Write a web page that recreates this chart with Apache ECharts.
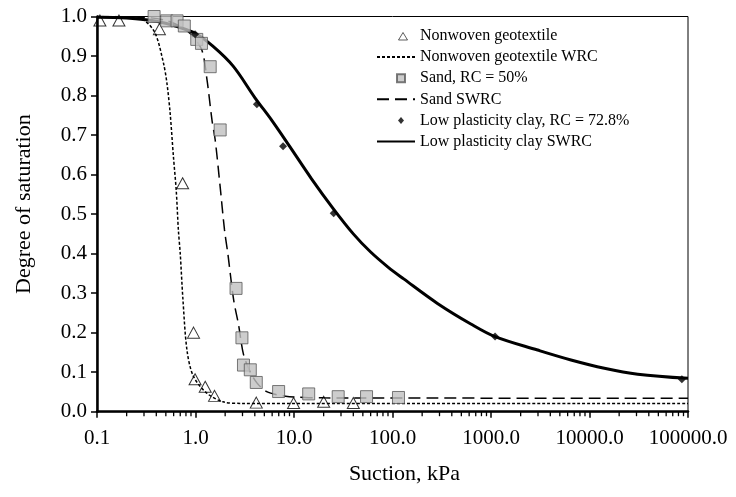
<!DOCTYPE html>
<html>
<head>
<meta charset="utf-8">
<script src="https://cdn.jsdelivr.net/npm/echarts@6/dist/echarts.min.js"></script>
<style>html,body{margin:0;padding:0;background:#fff}#c{width:736px;height:497px}</style>
</head>
<body>
<div id="c"></div>
<script>
// ---- Data ----
const xTickLabels = ['0.1', '1.0', '10.0', '100.0', '1000.0', '10000.0', '100000.0'];
const yTickLabels = ['0.0','0.1','0.2','0.3','0.4','0.5','0.6','0.7','0.8','0.9','1.0'];

// Nonwoven geotextile (measured)
const geoSuction = [0.107, 0.167, 0.43, 0.74, 0.955, 0.99, 1.255, 1.56, 4.14, 9.9, 20, 40];
const geoSat     = [0.99, 0.99, 0.968, 0.578, 0.20, 0.082, 0.063, 0.04, 0.023, 0.022, 0.025, 0.022];

// Nonwoven geotextile WRC (curve)
const geoWrcSuction = [0.1, 0.2, 0.3, 0.389, 0.473, 0.513, 0.553, 0.597, 0.637, 0.67, 0.70, 0.745, 0.82, 0.95, 1.3, 1.9, 3.0, 100000];
const geoWrcSat     = [1.0, 0.997, 0.99, 0.958, 0.882, 0.831, 0.755, 0.645, 0.561, 0.46, 0.40, 0.285, 0.155, 0.09, 0.047, 0.025, 0.021, 0.021];

// Sand, RC = 50% (measured)
const sandSuction = [0.38, 0.51, 0.65, 0.77, 1.03, 1.15, 1.41, 1.78, 2.58, 2.96, 3.07, 3.6, 4.14, 6.98, 14.1, 28.1, 54.5, 115];
const sandSat     = [1.0, 0.989, 0.989, 0.976, 0.942, 0.932, 0.873, 0.713, 0.312, 0.187, 0.118, 0.106, 0.074, 0.051, 0.045, 0.038, 0.038, 0.036];

// Sand SWRC (curve)
const sandWrcSuction = [0.1, 0.3, 0.5, 0.7, 0.9, 1.16, 1.31, 1.47, 1.585, 1.78, 1.97, 2.13, 2.44, 2.74, 3.07, 3.6, 4.2, 5.1, 6.2, 7.85, 10, 20, 100000];
const sandWrcSat     = [1.0, 0.998, 0.99, 0.975, 0.955, 0.915, 0.839, 0.738, 0.6875, 0.569, 0.46, 0.40, 0.283, 0.219, 0.145, 0.10, 0.073, 0.053, 0.045, 0.04, 0.037, 0.035, 0.034];

// Low plasticity clay, RC = 72.8% (measured)
const claySuction = [0.99, 4.2, 7.74, 25.3, 1100, 86700];
const claySat     = [0.955, 0.778, 0.672, 0.502, 0.19, 0.082];

// Low plasticity clay SWRC (curve)
const clayWrcSuction = [0.1, 0.2, 0.4, 0.7, 1.0, 1.5, 2.4, 4.0, 6.0, 9.0, 15, 25, 40, 60, 90, 130, 286, 624, 1100, 2972, 6486, 14150, 30900, 100000];
const clayWrcSat     = [0.998, 0.996, 0.988, 0.972, 0.957, 0.925, 0.875, 0.795, 0.736, 0.672, 0.59, 0.514, 0.45, 0.404, 0.366, 0.336, 0.274, 0.222, 0.19, 0.156, 0.131, 0.11, 0.095, 0.0845];

// Minor tick positions of the log axis (2..9 in every decade)
const minorTickValues = [];
[0.1, 1, 10, 100, 1000, 10000].forEach(d => { for (let k = 2; k <= 9; k++) minorTickValues.push(+(d * k).toPrecision(6)); });

const zip = (a, b) => a.map((v, i) => [v, b[i]]);
const FONT = "'Liberation Serif', 'Times New Roman', serif";
const HIDE = {color: 'rgba(0,0,0,0)', borderColor: 'rgba(0,0,0,0)', borderWidth: 0};
// legend icons: small marker inside a 38x8 box (move-to corners fix the box)
const ICON_TRI  = 'path://M0,0M38,8M21.5,8L26,0.5L30.5,8Z';
const ICON_RECT = 'path://M0,0M38,8M20,0L28,0L28,8L20,8Z';
const ICON_DIA  = 'path://M0,0M38,8M21,4L24,0.5L27,4L24,7.5Z';

const chart = echarts.init(document.getElementById('c'), null, {renderer: 'canvas'});
chart.setOption({
  animation: false,
  backgroundColor: '#fff',
  textStyle: {fontFamily: FONT, color: '#000'},
  grid: {left: 97, top: 16.5, width: 591, height: 395.2, show: true, borderColor: '#000', borderWidth: 1, backgroundColor: 'transparent'},
  legend: {
    orient: 'vertical', left: 376, top: 28, padding: 0,
    itemWidth: 38, itemHeight: 8, itemGap: 5.1, symbolKeepAspect: true,
    textStyle: {fontFamily: FONT, fontSize: 16, color: '#000', lineHeight: 16},
    data: [
      {name: 'Nonwoven geotextile', icon: ICON_TRI, itemStyle: {color: 'rgba(255,255,255,0)', borderColor: '#000', borderWidth: 0.8}},
      {name: 'Nonwoven geotextile WRC', itemStyle: HIDE},
      {name: 'Sand, RC = 50%', icon: ICON_RECT},
      {name: 'Sand SWRC', itemStyle: HIDE},
      {name: 'Low plasticity clay, RC = 72.8%', icon: ICON_DIA},
      {name: 'Low plasticity clay SWRC', itemStyle: HIDE}
    ],
    selectedMode: false
  },
  xAxis: {
    type: 'log', logBase: 10, min: 0.1, max: 100000, interval: 1,
    name: 'Suction, kPa', nameLocation: 'middle', nameGap: 52,
    nameTextStyle: {fontFamily: FONT, fontSize: 22, color: '#000', padding: [0, 0, 0, 24]},
    axisLine: {show: true, onZero: false, lineStyle: {color: '#000', width: 2.5}},
    axisTick: {show: true, inside: false, length: 6, lineStyle: {color: '#000', width: 1.5}},
    axisLabel: {fontFamily: FONT, fontSize: 21, color: '#000', margin: 16,
      formatter: v => xTickLabels[Math.round(Math.log10(v)) + 1]},
    splitLine: {show: false}
  },
  yAxis: {
    type: 'value', min: 0, max: 1, interval: 0.1,
    name: 'Degree of saturation', nameLocation: 'middle', nameGap: 62, nameRotate: 90,
    nameTextStyle: {fontFamily: FONT, fontSize: 22, color: '#000', padding: [0, 0, 0, 20]},
    axisLine: {show: true, lineStyle: {color: '#000', width: 2.5}},
    axisTick: {show: true, inside: false, length: 6, lineStyle: {color: '#000', width: 1.5}},
    axisLabel: {fontFamily: FONT, fontSize: 21, color: '#000', margin: 10,
      formatter: v => yTickLabels[Math.round(v * 10)]},
    splitLine: {show: false}
  },
  series: [
    {
      name: 'minorTicks', type: 'custom', clip: false, silent: true, z: 1,
      data: minorTickValues.map(v => [v, 0]),
      renderItem: (params, api) => {
        const p = api.coord([api.value(0), 0]);
        return {type: 'line', shape: {x1: p[0], y1: p[1], x2: p[0], y2: p[1] + 4.5}, style: {stroke: '#000', lineWidth: 1.3}};
      }
    },
    {
      name: 'Nonwoven geotextile WRC', type: 'line', data: zip(geoWrcSuction, geoWrcSat),
      symbol: 'none', smooth: 0.3, z: 2,
      lineStyle: {color: '#000', width: 1.5, type: [3, 2]}, itemStyle: {color: '#000'}
    },
    {
      name: 'Sand SWRC', type: 'line', data: zip(sandWrcSuction, sandWrcSat),
      symbol: 'none', smooth: 0.3, z: 2,
      lineStyle: {color: '#000', width: 1.5, type: [12, 6]}, itemStyle: {color: '#000'}
    },
    {
      name: 'Low plasticity clay SWRC', type: 'line', data: zip(clayWrcSuction, clayWrcSat),
      symbol: 'none', smooth: 0.35, z: 2,
      lineStyle: {color: '#000', width: 3}, itemStyle: {color: '#000'}
    },
    {
      name: 'Nonwoven geotextile', type: 'scatter', data: zip(geoSuction, geoSat),
      symbol: 'triangle', symbolSize: [12, 11], z: 3,
      itemStyle: {color: 'rgba(255,255,255,0)', borderColor: '#000', borderWidth: 1}
    },
    {
      name: 'Sand, RC = 50%', type: 'scatter', data: zip(sandSuction, sandSat),
      symbol: 'rect', symbolSize: 12, z: 4,
      itemStyle: {color: '#c0c0c0', borderColor: '#595959', borderWidth: 1}
    },
    {
      name: 'Low plasticity clay, RC = 72.8%', type: 'scatter', data: zip(claySuction, claySat),
      symbol: 'diamond', symbolSize: 8, z: 5,
      itemStyle: {color: '#000'}
    }
  ]
});
</script>
</body>
</html>
